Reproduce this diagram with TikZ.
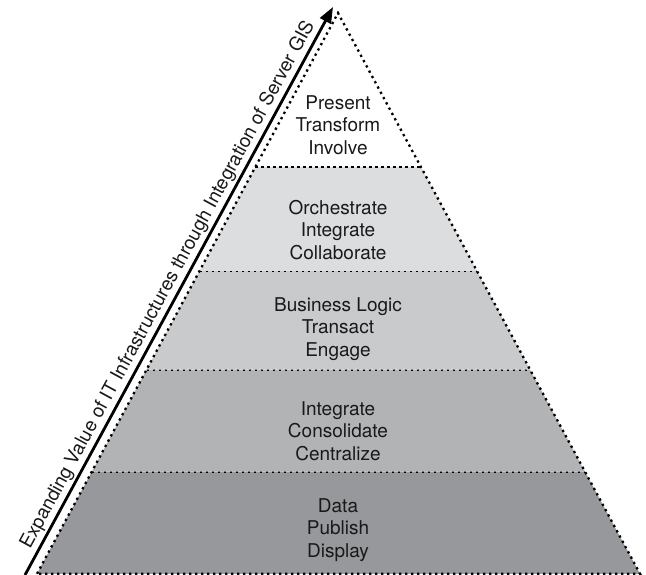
\documentclass[tikz,border=0pt]{standalone}
\usepackage{fontspec}
\setmainfont{TeX Gyre Heros}
\usetikzlibrary{calc,arrows.meta}
\definecolor{tierone}{RGB}{151,152,155}
\definecolor{tiertwo}{RGB}{178,179,181}
\definecolor{tierthree}{RGB}{201,202,204}
\definecolor{tierfour}{RGB}{220,221,223}

\begin{document}
\begin{tikzpicture}[x=1pt,y=1pt,
	dot line/.style = {line width=2.3pt, dash pattern=on 2.3pt off 3.7pt},
	tier text/.style = {align=center, font=\fontsize{19}{22.5}\selectfont, text=black!90}]
	\useasboundingbox (0,0) rectangle (646,575);
	\coordinate (bl) at (37,1.2);
	\coordinate (br) at (640,1.2);
	\coordinate (apex) at (338,562);
	% tiers, bottom to top
	\foreach \lo/\hi/\col in {0/0.182/tierone, 0.182/0.364/tiertwo, 0.364/0.540/tierthree, 0.540/0.7255/tierfour}{
		\fill[\col] ($(bl)!\lo!(apex)$) -- ($(bl)!\hi!(apex)$) -- ($(br)!\hi!(apex)$) -- ($(br)!\lo!(apex)$) -- cycle;
		\draw[dot line] ($(bl)!\hi!(apex)$) -- ($(br)!\hi!(apex)$);
	}
	\draw[dot line] (bl) -- (apex) -- (br) -- cycle;
	\node[tier text] (present) at (338,450) {Present\\Transform\\Involve};
	\node[tier text] (orchestrate) at (338,345) {Orchestrate\\Integrate\\Collaborate};
	\node[tier text] (business) at (338,246) {Business Logic\\Transact\\Engage};
	\node[tier text] (integrate) at (338,144) {Integrate\\Consolidate\\Centralize};
	\node[tier text] (data) at (338,45) {Data\\Publish\\Display};
	% value axis
	\coordinate (tail) at (25,0);
	\coordinate (tip) at (333,568);
	\draw[line width=2.8pt, -{Triangle[length=16pt,width=12pt]}] (tail) -- (tip)
		node[midway, sloped, above, inner sep=2pt, font=\fontsize{19}{19}\selectfont, text=black!90] (axis)
		{Expanding Value of IT Infrastructures through Integration of Server GIS};
\end{tikzpicture}
\end{document}
